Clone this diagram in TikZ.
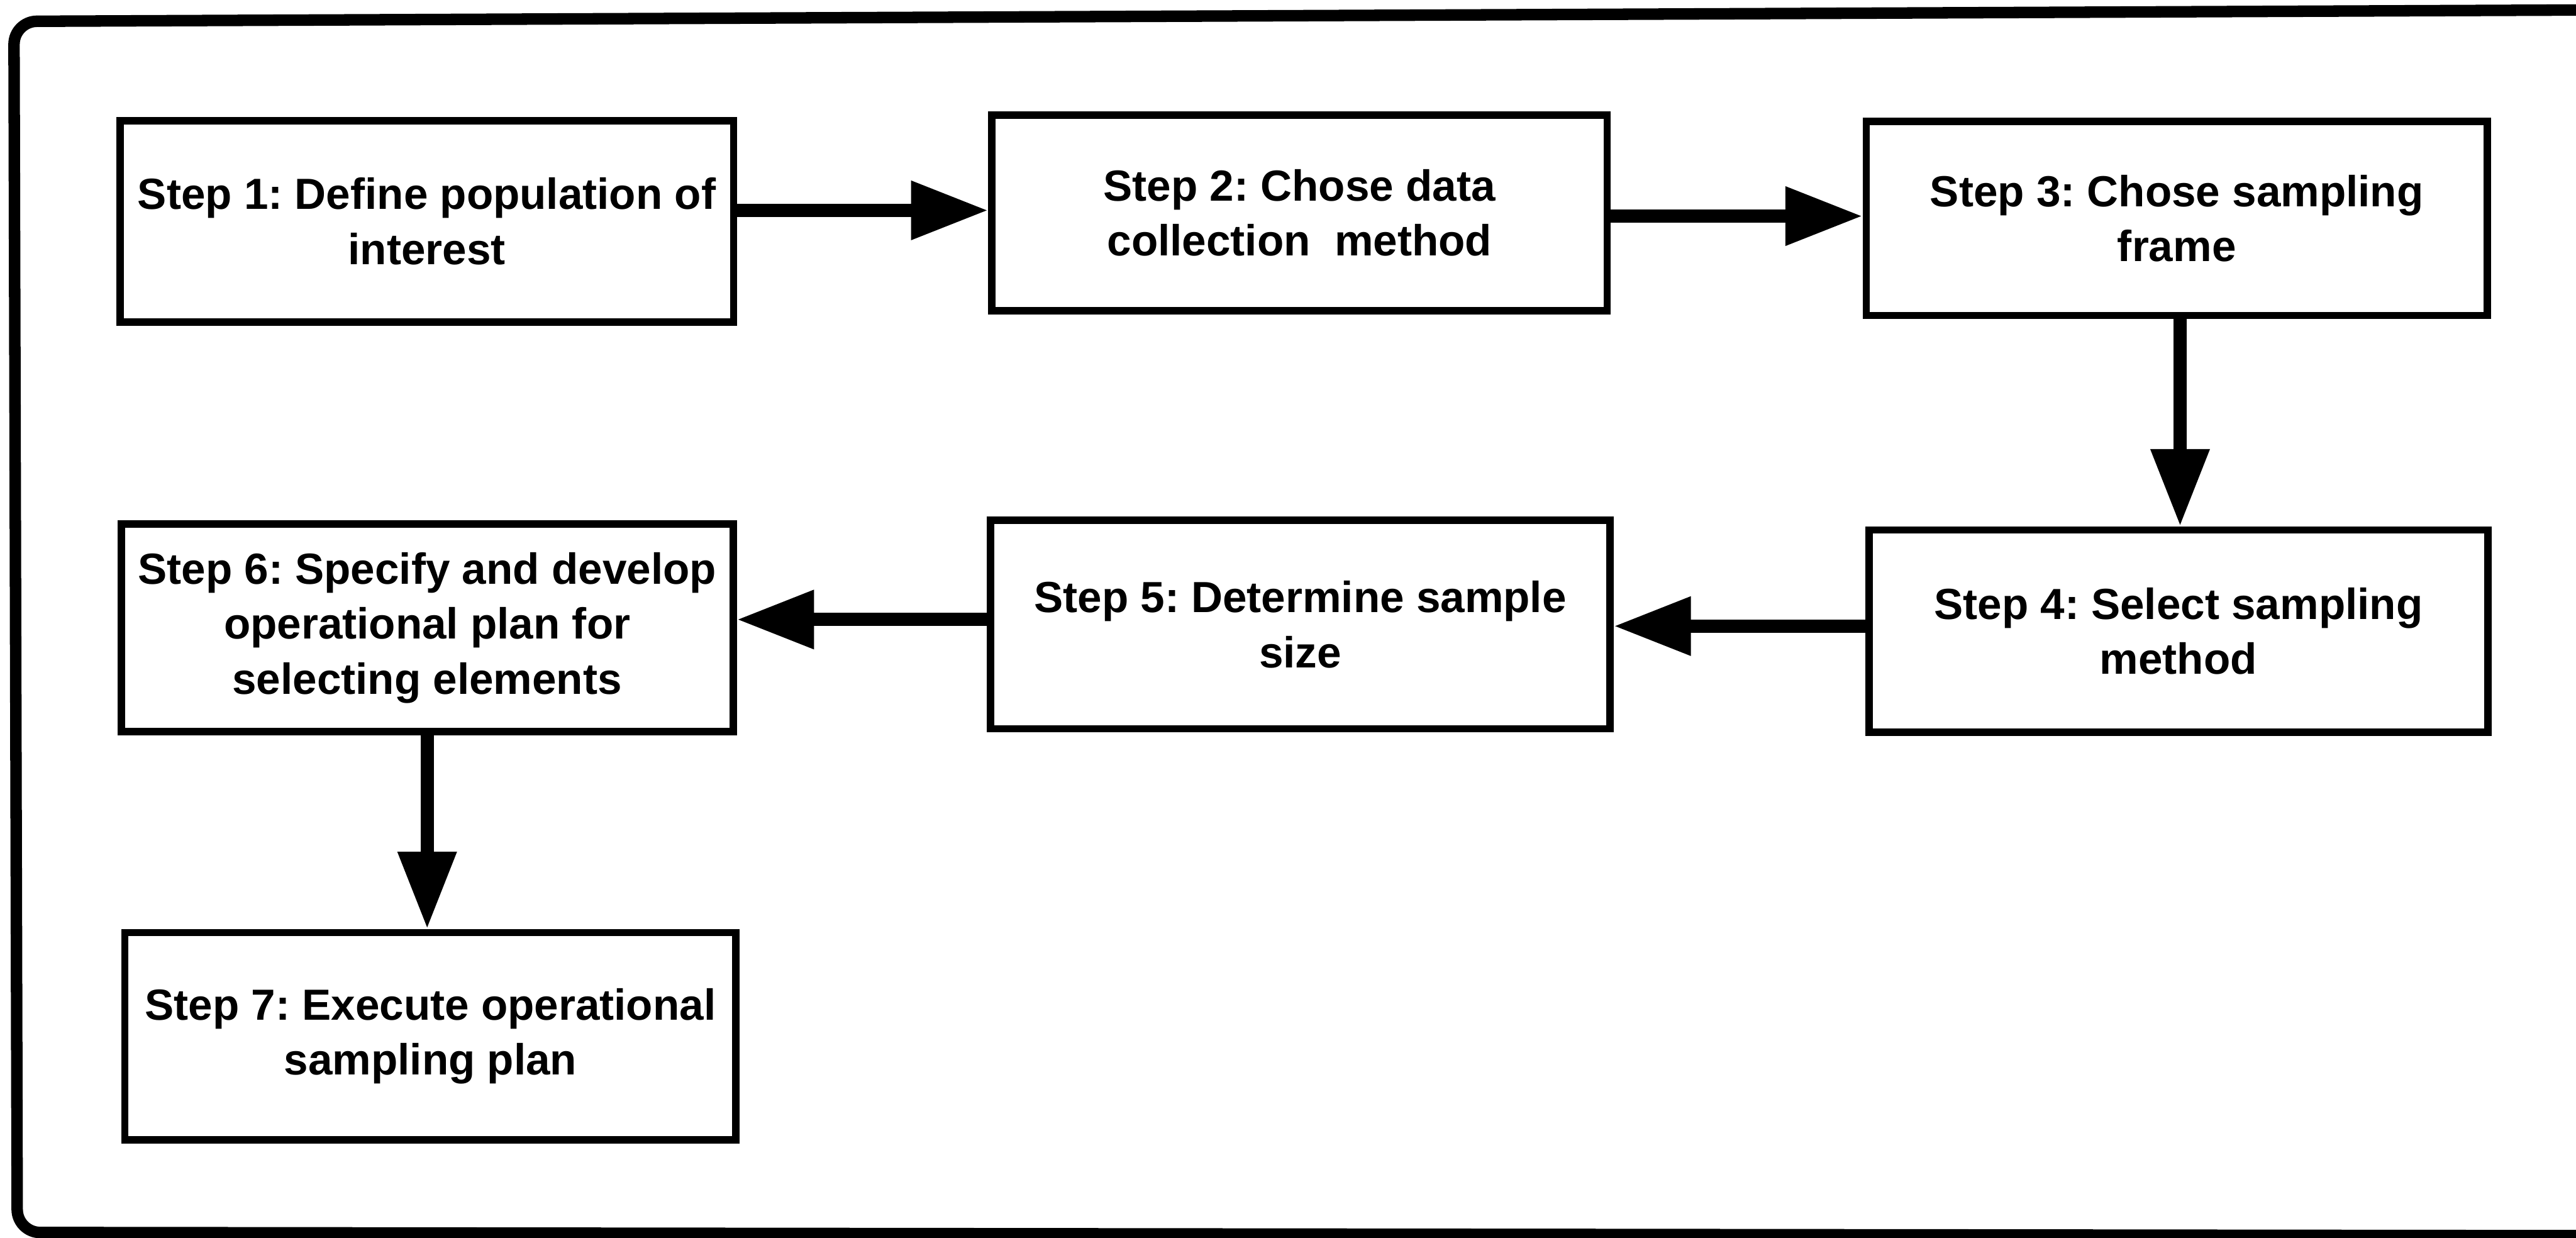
\documentclass[tikz,border=0pt]{standalone}
\usepackage{fontspec}
\setmainfont{Liberation Sans}
\usetikzlibrary{arrows.meta}
\frenchspacing
\begin{document}
\begin{tikzpicture}[x=1pt,y=-1pt,
  stepbox/.style={draw, line width=4.5pt, align=center, inner sep=0pt,
    font=\bfseries\fontsize{26.5}{33.5}\selectfont},
  flow/.style={line width=8pt, -{Triangle[length=47pt,width=34pt]}},
  outerframe/.style={line width=7pt, rounded corners=14pt}]
\useasboundingbox (0,0) rectangle (1568,753);
\clip (0,0) rectangle (1568,753);
\fill[white] (0,0) rectangle (1568,753);

% surrounding frame (runs off the right and bottom edges)
\draw[outerframe] (8.5,13) -- (1590,6) -- (1592,752) -- (10.5,750) -- cycle;

% the seven steps
\node[stepbox, minimum width=373.5pt, minimum height=122.5pt] (b1) at (259.75,134.75)
  {Step 1: Define population of\\interest};
\node[stepbox, minimum width=374.5pt, minimum height=119pt] (b2) at (791,129.5)
  {Step 2: Chose data\\collection\ \ method};
\node[stepbox, minimum width=378pt, minimum height=118pt] (b3) at (1325,133)
  {Step 3: Chose sampling\\frame};
\node[stepbox, minimum width=376.5pt, minimum height=123pt] (b4) at (1326,384)
  {Step 4: Select sampling\\method};
\node[stepbox, minimum width=377pt, minimum height=127pt] (b5) at (791.5,380)
  {Step 5: Determine sample\\size};
\node[stepbox, minimum width=372.5pt, minimum height=126.5pt] (b6) at (260,382)
  {Step 6: Specify and develop\\operational plan for\\selecting elements};
\node[stepbox, minimum width=372pt, minimum height=126pt] (b7) at (262,630.5)
  {Step 7: Execute operational\\sampling plan};

% levels of the connectors
\coordinate (r12) at (0,128);
\coordinate (r23) at (0,131.5);
\coordinate (r45) at (0,381);
\coordinate (r56) at (0,377);
\coordinate (v34) at (1327,0);
\coordinate (v67) at (260,0);

% connectors
\draw[flow] (b1.east |- r12) -- (b2.west |- r12);
\draw[flow] (b2.east |- r23) -- (b3.west |- r23);
\draw[flow] (b3.south -| v34) -- (b4.north -| v34);
\draw[flow] (b4.west |- r45) -- (b5.east |- r45);
\draw[flow] (b5.west |- r56) -- (b6.east |- r56);
\draw[flow] (b6.south -| v67) -- (b7.north -| v67);
\end{tikzpicture}
\end{document}
